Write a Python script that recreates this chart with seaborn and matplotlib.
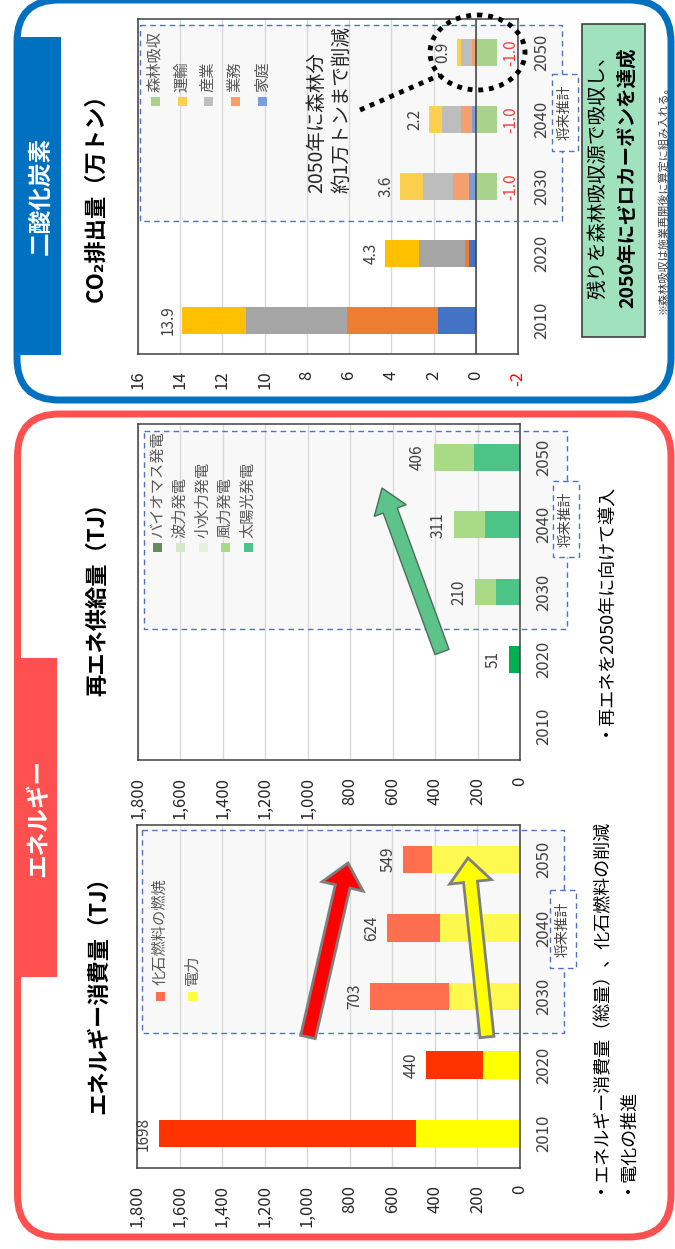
import numpy as np
import pandas as pd
import matplotlib
matplotlib.use("Agg")
import matplotlib.pyplot as plt
from matplotlib.patches import FancyBboxPatch, Rectangle, Ellipse, FancyArrow
from matplotlib.lines import Line2D
import seaborn as sns

# ---------------- data ----------------
years = ["2010", "2020", "2030", "2040", "2050"]
projected = [False, False, True, True, True]

# CO2排出量（万トン）
co2_katei = [1.8, 0.3, 0.3, 0.2, 0.05]       # 家庭
co2_gyomu = [4.3, 0.2, 0.8, 0.5, 0.15]       # 業務
co2_sangyo = [4.8, 2.2, 1.4, 0.9, 0.5]       # 産業
co2_unyu = [3.0, 1.6, 1.1, 0.6, 0.2]         # 運輸
co2_shinrin = [0.0, 0.0, -1.0, -1.0, -1.0]   # 森林吸収
co2_ticks = [-2, 0, 2, 4, 6, 8, 10, 12, 14, 16]

# 再エネ供給量（TJ）
re_taiyoko = [0, 51, 113, 164, 216]      # 太陽光発電
re_furyoku = [0, 0, 97, 147, 190]        # 風力発電
re_shosuiryoku = [0, 0, 0, 0, 0]         # 小水力発電
re_haryoku = [0, 0, 0, 0, 0]             # 波力発電
re_biomass = [0, 0, 0, 0, 0]             # バイオマス発電

# エネルギー消費量（TJ）
en_denryoku = [490, 175, 334, 376, 413]  # 電力
en_kaseki = [1208, 265, 369, 248, 136]   # 化石燃料の燃焼
tj_ticks = [0, 200, 400, 600, 800, 1000, 1200, 1400, 1600, 1800]

# ---------------- style ----------------
sns.set_theme(style="white")
plt.rcParams["font.family"] = ["Noto Sans CJK JP", "DejaVu Sans"]

W, H = 675, 1249
fig = plt.figure(figsize=(W / 100, H / 100), dpi=100)
fig.patch.set_facecolor("white")


def add_px_axes(x0, y0, x1, y1):
    return fig.add_axes([x0 / W, 1 - y1 / H, (x1 - x0) / W, (y1 - y0) / H])


bg = add_px_axes(0, 0, W, H)
bg.set_zorder(-1)
fg = add_px_axes(0, 0, W, H)
fg.set_zorder(10)
for a in (bg, fg):
    a.set_xlim(0, W)
    a.set_ylim(H, 0)
    a.axis("off")

order = years[::-1]
pos = {y: i for i, y in enumerate(order)}
DARK = "#404040"


def stacked_barh(ax, layers):
    """layers: (values, actual colour, projected colour) from the axis outward."""
    layers = [l for l in layers if any(v != 0 for v in l[0])]
    cum = np.cumsum([np.asarray(v, float) for v, _, _ in layers], axis=0)
    for k in range(len(layers) - 1, -1, -1):
        _, c_act, c_proj = layers[k]
        df = pd.DataFrame({"year": years, "value": cum[k]})
        pal = {y: (c_proj if p else c_act) for y, p in zip(years, projected)}
        sns.barplot(data=df, x="value", y="year", hue="year", order=order,
                    palette=pal, legend=False, width=0.4, saturation=1,
                    errorbar=None, orient="h", linewidth=0, ax=ax)
    return cum[-1]


def style_axes(ax, xlim, ticks, ticklabels):
    ax.set_facecolor("none")
    ax.set_xlim(*xlim)
    ax.set_xticks(ticks)
    ax.set_xticklabels(ticklabels)
    ax.set_xlabel("")
    ax.set_ylabel("")
    ax.tick_params(axis="x", length=0, pad=12, labelsize=12,
                   labelcolor="#262626", labelrotation=90)
    ax.yaxis.tick_right()
    ax.tick_params(axis="y", length=0, pad=11, labelsize=12,
                   labelcolor=DARK, labelrotation=90,
                   labelright=True, labelleft=False)
    for lab in ax.get_yticklabels():
        lab.set_va("center")
    ax.xaxis.grid(True, color="#D9D9D9", lw=1)
    ax.yaxis.grid(False)
    ax.set_axisbelow(True)
    for s in ax.spines.values():
        s.set_visible(True)
        s.set_color(DARK)
        s.set_linewidth(1.1)


def value_labels(ax, totals, fmt, offset, color=DARK):
    for y, t in zip(years, totals):
        if abs(t) < 1e-9:
            continue
        ax.annotate(fmt.format(t), xy=(t, pos[y]), xytext=(offset, 0),
                    textcoords="offset points", rotation=90,
                    ha="right" if offset < 0 else "left", va="center",
                    fontsize=11, color=color, zorder=6)


# ---------------- frames & section headers ----------------
bg.add_patch(FancyBboxPatch((17, 0), 654, 400,
                            boxstyle="round,pad=0,rounding_size=42",
                            fc="none", ec="#0070C0", lw=5))
bg.add_patch(FancyBboxPatch((17.5, 414), 653.5, 823,
                            boxstyle="round,pad=0,rounding_size=42",
                            fc="none", ec="#FF5050", lw=5))
bg.add_patch(Rectangle((18, 37), 43, 318, fc="#0070C0", ec="none"))
bg.add_patch(Rectangle((18, 658), 39, 319, fc="#FF5050", ec="none"))
fg.text(40, 196, "二酸化炭素", rotation=90, ha="center", va="center",
        color="white", fontsize=17, fontweight="bold")
fg.text(38, 818, "エネルギー", rotation=90, ha="center", va="center",
        color="white", fontsize=17, fontweight="bold")

# projection regions (fill behind, dashed outline on top)
proj_boxes = [((140, 25, 562, 221), (552, 74, 578, 151)),
              ((144, 431, 567, 629), (553, 481, 579, 557)),
              ((142, 830, 564, 1033), (550, 890, 576, 968))]
for (x0, y0, x1, y1), (nx0, ny0, nx1, ny1) in proj_boxes:
    bg.add_patch(Rectangle((x0, y0), x1 - x0, y1 - y0, fc="#F8F8F8", ec="none"))
    fg.add_patch(Rectangle((x0, y0), x1 - x0, y1 - y0, fc="none",
                           ec="#4F71BE", lw=1.0, ls=(0, (4, 3))))
    fg.add_patch(Rectangle((nx0, ny0), nx1 - nx0, ny1 - ny0, fc="white",
                           ec="#4F71BE", lw=1.0, ls=(0, (4, 3))))
    fg.text((nx0 + nx1) / 2, (ny0 + ny1) / 2, "将来推計", rotation=90,
            ha="center", va="center", fontsize=10, color=DARK)

# ---------------- CO2 chart ----------------
ax_co2 = add_px_axes(138, 19, 518, 354)
co2_tot = stacked_barh(ax_co2, [
    (co2_katei, "#4472C4", "#7B9ED9"),
    (co2_gyomu, "#ED7D31", "#F2A06E"),
    (co2_sangyo, "#A5A5A5", "#BDBDBD"),
    (co2_unyu, "#FFC000", "#FAD04E"),
])
sns.barplot(data=pd.DataFrame({"year": years, "value": co2_shinrin}),
            x="value", y="year", order=order, color="#A9D38C", width=0.4,
            saturation=1, errorbar=None, orient="h", linewidth=0, ax=ax_co2)
style_axes(ax_co2, (16, -2), co2_ticks, [str(t) for t in co2_ticks])
ax_co2.get_xticklabels()[0].set_color("#FF0000")
ax_co2.axvline(0, color=DARK, lw=1.1, zorder=5)
value_labels(ax_co2, co2_tot, "{:.1f}", -4)
value_labels(ax_co2, co2_shinrin, "{:.1f}", 4, color="#FF3B3B")

fg.text(96, 192, "CO₂排出量（万トン）", rotation=90, ha="center", va="center",
        fontsize=16, fontweight="bold", color="black")

co2_legend = [("森林吸収", "#A9D38C"), ("運輸", "#FAD04E"), ("産業", "#BDBDBD"),
              ("業務", "#F2A06E"), ("家庭", "#7B9ED9")]
for (name, col), x in zip(co2_legend, [155, 182, 208, 235, 262]):
    fg.add_patch(Rectangle((x - 4.5, 96.5), 9, 9, fc=col, ec="none"))
    fg.text(x, 92, name, rotation=90, ha="center", va="bottom",
            fontsize=11, color="#595959")

fg.text(317, 193, "2050年に森林分", rotation=90, ha="center", va="bottom",
        fontsize=14, color="#262626")
fg.text(342, 193, "約1万トンまで削減", rotation=90, ha="center", va="bottom",
        fontsize=14, color="#262626")
dots = (0, (1, 1.2))
fg.add_line(Line2D([360, 440], [110, 75], color="black", lw=3.5, ls=dots))
fg.add_patch(Ellipse((477.5, 52.5), 95, 75, fill=False, ec="black",
                     lw=3.5, ls=dots))

fg.add_patch(Rectangle((582, 24), 63, 313, fc="#A0E2BE", ec="#3F3F3F", lw=1.2))
fg.text(598, 172, "残りを森林吸収源で吸収し、", rotation=90, ha="center",
        va="center", fontsize=14, color="black")
fg.text(627, 178, "2050年にゼロカーボンを達成", rotation=90, ha="center",
        va="center", fontsize=14, fontweight="bold", color="black")
fg.text(663, 197, "※森林吸収は施業再開後に算定に組み入れる。", rotation=90,
        ha="center", va="center", fontsize=8, color=DARK)

# ---------------- renewable supply chart ----------------
ax_re = add_px_axes(138, 424, 520, 760)
re_tot = stacked_barh(ax_re, [
    (re_taiyoko, "#00B050", "#4DC487"),
    (re_furyoku, "#92D050", "#A9DA85"),
    (re_shosuiryoku, "#E3F0DC", "#E3F0DC"),
    (re_haryoku, "#D5E8CA", "#D5E8CA"),
    (re_biomass, "#6B8A5C", "#6B8A5C"),
])
style_axes(ax_re, (1800, 0), tj_ticks, [f"{t:,}" for t in tj_ticks])
value_labels(ax_re, re_tot, "{:.0f}", -5.5)

fg.text(98, 594, "再エネ供給量（TJ）", rotation=90, ha="center", va="center",
        fontsize=16, fontweight="bold", color="black")
re_legend = [("バイオマス発電", "#6B8A5C"), ("波力発電", "#D5E8CA"),
             ("小水力発電", "#E3F0DC"), ("風力発電", "#A9DA85"),
             ("太陽光発電", "#4DC487")]
for (name, col), x in zip(re_legend, [157, 180, 203, 225, 248]):
    fg.add_patch(Rectangle((x - 4.5, 543), 9, 9, fc=col, ec="none"))
    fg.text(x, 538, name, rotation=90, ha="center", va="bottom",
            fontsize=11, color="#595959")

fg.add_patch(FancyArrow(442, 652, 382 - 442, 488 - 652, width=15,
                        head_width=34, head_length=24,
                        length_includes_head=True, fc="#5CC48B",
                        ec="#4F6B5A", lw=1))
fg.text(602, 736, "・再エネを2050年に向けて導入", rotation=90, ha="center",
        va="bottom", fontsize=13, color="black")

# ---------------- energy consumption chart ----------------
ax_en = add_px_axes(137, 825, 520, 1168)
en_tot = stacked_barh(ax_en, [
    (en_denryoku, "#FFFF00", "#FFF84F"),
    (en_kaseki, "#FF3300", "#FF6F4F"),
])
style_axes(ax_en, (1800, 0), tj_ticks, [f"{t:,}" for t in tj_ticks])
value_labels(ax_en, en_tot, "{:.0f}", -5)

fg.text(99, 990, "エネルギー消費量（TJ）", rotation=90, ha="center",
        va="center", fontsize=16, fontweight="bold", color="black")
en_legend = [("化石燃料の燃焼", "#FF6F4F"), ("電力", "#FFFF40")]
for (name, col), x in zip(en_legend, [160, 192]):
    fg.add_patch(Rectangle((x - 4.5, 991.5), 9, 9, fc=col, ec="none"))
    fg.text(x, 985, name, rotation=90, ha="center", va="bottom",
            fontsize=11, color="#595959")

fg.add_patch(FancyArrow(308, 1037, 348 - 308, 863 - 1037, width=15,
                        head_width=42, head_length=24,
                        length_includes_head=True, fc="#FF0000",
                        ec="#7F7F7F", lw=2))
fg.add_patch(FancyArrow(487, 1037, 468 - 487, 858 - 1037, width=14,
                        head_width=42, head_length=24,
                        length_includes_head=True, fc="#FFFF00",
                        ec="#7F7F7F", lw=2))

fg.text(597, 1193, "・エネルギー消費量（総量）、化石燃料の削減", rotation=90,
        ha="center", va="bottom", fontsize=13, color="black")
fg.text(624, 1193, "・電化の推進", rotation=90, ha="center", va="bottom",
        fontsize=13, color="black")

fig.savefig("out.png", dpi=100)
